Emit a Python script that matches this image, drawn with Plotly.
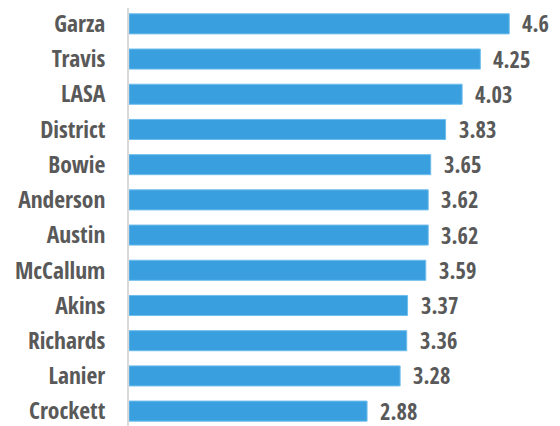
import plotly.graph_objects as go

schools = ["Garza", "Travis", "LASA", "District", "Bowie", "Anderson", "Austin",
           "McCallum", "Akins", "Richards", "Lanier", "Crockett"]
scores = [4.6, 4.25, 4.03, 3.83, 3.65, 3.62, 3.62, 3.59, 3.37, 3.36, 3.28, 2.88]
score_labels = ["4.6", "4.25", "4.03", "3.83", "3.65", "3.62", "3.62", "3.59",
                "3.37", "3.36", "3.28", "2.88"]

FONT = "Open Sans Condensed, Roboto Condensed, sans-serif"
GRAY = "#595959"
BLUE = "#399fdf"

fig = go.Figure(go.Bar(
    x=scores, y=schools, orientation="h",
    marker=dict(color=BLUE, line=dict(color="#6fbdec", width=1)),
    width=0.57, hoverinfo="skip",
))

for s, v, t in zip(schools, scores, score_labels):
    fig.add_annotation(x=v, y=s, text=t, xanchor="left", yanchor="middle",
                       xshift=11, showarrow=False,
                       font=dict(family=FONT, size=22.5, color=GRAY, weight="bold"))

fig.update_layout(
    width=560, height=426,
    margin=dict(l=121, r=10, t=0, b=0, autoexpand=False),
    paper_bgcolor="white", plot_bgcolor="white",
    showlegend=False,
    xaxis=dict(range=[0, 5.19], visible=False, fixedrange=True, automargin=False),
    yaxis=dict(categoryorder="array", categoryarray=schools, automargin=False,
               range=[11.65, -0.45], showline=True, linecolor="#d9d9d9", linewidth=2,
               ticks="", ticklabelstandoff=17, showgrid=False, zeroline=False,
               tickfont=dict(family=FONT, size=23.5, color=GRAY, weight="bold")),
)

fig.write_html("out.html")
